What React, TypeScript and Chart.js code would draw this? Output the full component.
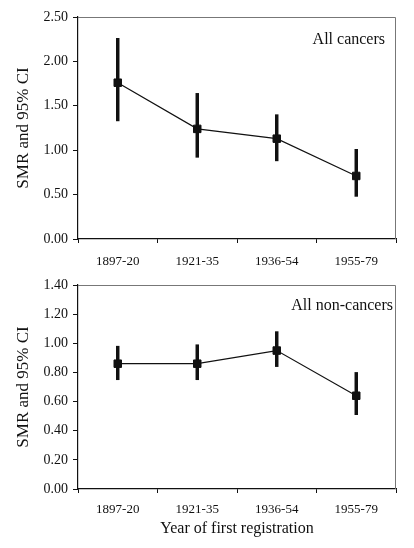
import React, { useEffect, useRef } from 'react';
import { Chart, registerables } from 'chart.js';

Chart.register(...registerables);

const periods = ['1897-20', '1921-35', '1936-54', '1955-79'];

// All cancers: SMR with 95% CI
const cancerSmr = [1.76, 1.24, 1.13, 0.71];
const cancerLow = [1.33, 0.92, 0.88, 0.48];
const cancerHigh = [2.26, 1.64, 1.4, 1.01];

// All non-cancers: SMR with 95% CI
const nonCancerSmr = [0.86, 0.86, 0.95, 0.64];
const nonCancerLow = [0.75, 0.75, 0.84, 0.51];
const nonCancerHigh = [0.98, 0.99, 1.08, 0.8];

const INK = '#111';
const FONT = "'Liberation Serif', 'Times New Roman', serif";

// top and right edges of the plot box, drawn lighter than the axes
const framePlugin = {
  id: 'frame',
  beforeDatasetsDraw(chart: any) {
    const { ctx, chartArea: a } = chart;
    ctx.save();
    ctx.strokeStyle = '#777';
    ctx.lineWidth = 1;
    ctx.beginPath();
    ctx.moveTo(a.left, a.top + 0.5);
    ctx.lineTo(a.right - 0.5, a.top + 0.5);
    ctx.lineTo(a.right - 0.5, a.bottom);
    ctx.stroke();
    ctx.restore();
  },
};

const labelPlugin = {
  id: 'panelLabel',
  afterDraw(chart: any, _args: any, opts: any) {
    const { ctx, chartArea: a } = chart;
    ctx.save();
    ctx.font = `16px ${FONT}`;
    ctx.fillStyle = INK;
    ctx.textAlign = 'right';
    ctx.textBaseline = 'middle';
    ctx.fillText(opts.text, a.right - opts.inset, a.top + opts.offset);
    ctx.restore();
  },
};

type PanelProps = {
  smr: number[];
  low: number[];
  high: number[];
  yMax: number;
  yStep: number;
  label: string;
  labelInset: number;
  labelOffset: number;
  top: number;
  height: number;
  padTop: number;
  axisHeight: number;
  tickPad: number;
  xTitle?: string;
};

const Panel = (p: PanelProps) => {
  const canvasRef = useRef<HTMLCanvasElement>(null);

  useEffect(() => {
    if (!canvasRef.current) return;
    const chart = new Chart(canvasRef.current, {
      type: 'line',
      data: {
        labels: periods,
        datasets: [
          {
            type: 'line',
            data: p.smr,
            borderColor: INK,
            borderWidth: 1.2,
            pointStyle: 'rect',
            pointRadius: 5.3,
            pointBackgroundColor: INK,
            pointBorderColor: INK,
            pointBorderWidth: 1,
            order: 0,
          },
          {
            type: 'bar',
            data: p.low.map((v, i) => [v, p.high[i]]),
            backgroundColor: INK,
            borderWidth: 0,
            barThickness: 2.8,
            order: 1,
          } as any,
        ],
      },
      options: {
        animation: false,
        responsive: true,
        maintainAspectRatio: false,
        layout: { padding: { top: p.padTop, right: 18, left: 0, bottom: 0 } },
        plugins: {
          legend: { display: false },
          tooltip: { enabled: false },
          panelLabel: { text: p.label, inset: p.labelInset, offset: p.labelOffset },
        } as any,
        scales: {
          x: {
            offset: true,
            grid: { offset: true, drawOnChartArea: false, tickLength: 4, color: INK },
            border: { color: INK, width: 1.2 },
            ticks: { color: INK, padding: p.tickPad, font: { family: FONT, size: 13 } },
            title: {
              display: !!p.xTitle,
              text: p.xTitle || '',
              color: INK,
              font: { family: FONT, size: 16 },
              padding: { top: 0, bottom: 10 },
            },
            afterFit: (s: any) => {
              s.height = p.axisHeight;
            },
          },
          y: {
            min: 0,
            max: p.yMax,
            grid: { drawOnChartArea: false, tickLength: 5, color: INK },
            border: { color: INK, width: 1.2 },
            ticks: {
              stepSize: p.yStep,
              color: INK,
              padding: 5,
              font: { family: FONT, size: 14 },
              callback: (v: any) => Number(v).toFixed(2),
            },
            title: {
              display: true,
              text: 'SMR and 95% CI',
              color: INK,
              font: { family: FONT, size: 17 },
              padding: { top: 13, bottom: 0 },
            },
            afterFit: (s: any) => {
              s.width = 78;
            },
          },
        },
      },
      plugins: [framePlugin, labelPlugin],
    });
    return () => {
      chart.destroy();
    };
  }, []);

  return (
    <div style={{ position: 'absolute', left: 0, top: p.top, width: 414, height: p.height }}>
      <canvas ref={canvasRef}></canvas>
    </div>
  );
};

const App = () => {
  return (
    <div style={{ position: 'absolute', left: 0, top: 0, width: 414, height: 548, background: '#fff' }}>
      <Panel
        smr={cancerSmr}
        low={cancerLow}
        high={cancerHigh}
        yMax={2.5}
        yStep={0.5}
        label="All cancers"
        labelInset={11}
        labelOffset={23}
        top={0}
        height={270}
        padTop={17}
        axisHeight={31}
        tickPad={11}
      />
      <Panel
        smr={nonCancerSmr}
        low={nonCancerLow}
        high={nonCancerHigh}
        yMax={1.4}
        yStep={0.2}
        label="All non-cancers"
        labelInset={3}
        labelOffset={21}
        top={270}
        height={278}
        padTop={15}
        axisHeight={59}
        tickPad={9}
        xTitle="Year of first registration"
      />
    </div>
  );
};

export default App;
